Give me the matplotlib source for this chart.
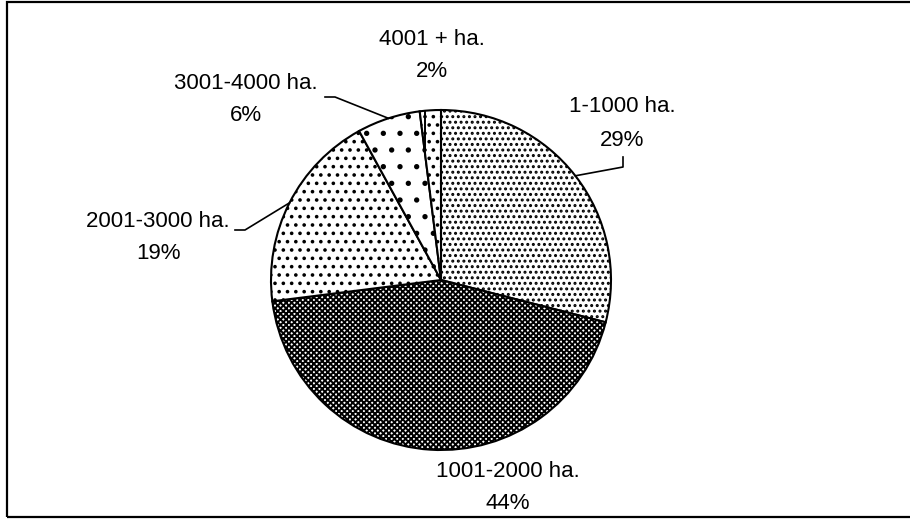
import numpy as np
import matplotlib
matplotlib.use('Agg')
import matplotlib.pyplot as plt
from matplotlib.patches import Rectangle

plt.rcParams['font.family'] = ['Liberation Sans', 'DejaVu Sans']
plt.rcParams['hatch.linewidth'] = 1.4

# data
categories = ['1-1000 ha.', '1001-2000 ha.', '2001-3000 ha.', '3001-4000 ha.', '4001 + ha.']
shares = [29, 44, 19, 6, 2]
hatches = ['...', 'xxxxxx', '..', '.', '|..']

W, H = 910, 519
CX, CY, R = 441, 280, 170   # pie centre / radius in pixels


def to_data(px, py):
    return (px - CX) / R, (CY - py) / R


# label baselines in pixels: (x, y line 1, y line 2)
label_px = [(622, 112, 146), (508, 477, 509), (158, 227, 259), (246, 89, 121), (432, 45, 77)]
# leader lines: elbow then end point (pixels)
leaders = [[(623, 167), (623, 157)], None, [(245, 230), (235, 230)],
           [(335, 97), (325, 97)], None]

fig = plt.figure(figsize=(W / 100, H / 100), dpi=100)

# outer frame
fig.patches.append(Rectangle((7 / W, 2 / H), 1.0, 515 / H, transform=fig.transFigure,
                             fill=False, edgecolor='black', linewidth=1.6))

ax = fig.add_axes([(CX - R) / W, (H - CY - R) / H, 2 * R / W, 2 * R / H])

wedges, _ = ax.pie(shares, startangle=90, counterclock=False, radius=1,
                   colors=['white'] * len(shares),
                   wedgeprops=dict(edgecolor='black', linewidth=1.5))
for w, h in zip(wedges, hatches):
    w.set_hatch(h)

for i, (w, lab, s) in enumerate(zip(wedges, categories, shares)):
    lx, y1, y2 = label_px[i]
    ax.text(*to_data(lx, y1), lab, ha='center', va='baseline', fontsize=16)
    ax.text(*to_data(lx, y2), f'{s}%', ha='center', va='baseline', fontsize=16)
    if leaders[i] is not None:
        ang = np.deg2rad((w.theta1 + w.theta2) / 2)
        xs = [np.cos(ang)] + [to_data(*p)[0] for p in leaders[i]]
        ys = [np.sin(ang)] + [to_data(*p)[1] for p in leaders[i]]
        ax.plot(xs, ys, color='black', lw=1.2, clip_on=False)

ax.set_xlim(-1, 1)
ax.set_ylim(-1, 1)
ax.axis('off')

fig.savefig('out.png', dpi=100)
